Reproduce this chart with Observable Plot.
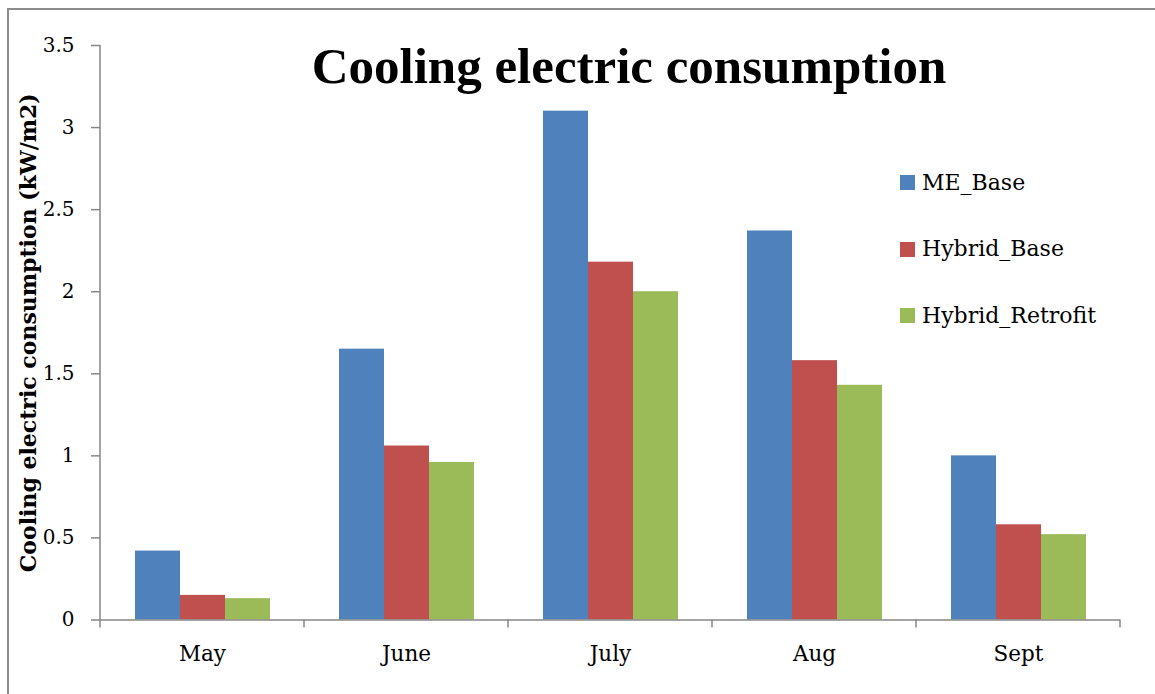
<!DOCTYPE html>
<html>
<head>
<meta charset="utf-8">
<script src="https://cdn.jsdelivr.net/npm/d3@7"></script>
<script src="https://cdn.jsdelivr.net/npm/@observablehq/plot@0.6"></script>
<style>
  body { margin: 0; background: #fff; }
  #chart { position: relative; width: 1155px; height: 694px; overflow: hidden; background: #fff; }
  #border { position: absolute; left: 7px; top: 8px; width: 1300px; height: 900px;
            border-left: 2px solid #8c8c8c; border-top: 2px solid #8c8c8c; }
  #plot { position: absolute; left: 0; top: 0; }
  #title { position: absolute; left: 0; width: 1258px; top: 41px; text-align: center;
           font: bold 51px/1 "Liberation Serif", serif; color: #000; white-space: nowrap; }
  #legend { position: absolute; left: 900px; top: 0; font: 22px/22px "DejaVu Serif", serif; color: #000; }
  .row { position: absolute; left: 0; display: flex; align-items: center; white-space: nowrap; }
  .sw { width: 15px; height: 15px; margin-right: 7px; }
  g[aria-label="y-axis label"] text { font-weight: bold; font-size: 22px; }
  g[aria-label="fx-axis tick label"] text { font-size: 21.5px; }
</style>
</head>
<body>
<div id="chart">
  <div id="border"></div>
  <div id="plot"></div>
  <div id="title"></div>
  <div id="legend"></div>
</div>
<script>
// Monthly cooling electric consumption per floor area, three configurations
const months = ["May", "June", "July", "Aug", "Sept"];
const seriesNames = ["ME_Base", "Hybrid_Base", "Hybrid_Retrofit"];
const meBase = [0.42, 1.65, 3.10, 2.37, 1.00];
const hybridBase = [0.15, 1.06, 2.18, 1.58, 0.58];
const hybridRetrofit = [0.13, 0.96, 2.00, 1.43, 0.52];
const seriesColors = ["#4F81BD", "#C0504D", "#9BBB59"];
const yTicks = [0, 0.5, 1, 1.5, 2, 2.5, 3, 3.5];
const titleText = "Cooling electric consumption";
const yLabel = "Cooling electric consumption (kW/m2)";

// long table: one row per month × series
const seriesValues = [meBase, hybridBase, hybridRetrofit];
const rows = months.flatMap((m, i) =>
  seriesNames.map((s, j) => ({month: m, series: s, value: seriesValues[j][i]}))
);

const axisGray = "#868686";

const plot = Plot.plot({
  width: 1155,
  height: 694,
  marginLeft: 99,
  marginRight: 34,
  marginTop: 45,
  marginBottom: 74.5,
  style: {fontFamily: "'DejaVu Serif', serif", fontSize: "20px", color: "#000", background: "transparent"},
  fx: {domain: months, padding: 0, label: null},
  x: {domain: seriesNames, paddingInner: 0, paddingOuter: 0.75, axis: null},
  y: {domain: [0, 3.5], label: null},
  color: {domain: seriesNames, range: seriesColors},
  marks: [
    Plot.barY(rows, {fx: "month", x: "series", y: "value", fill: "series"}),
    Plot.ruleY([0], {stroke: axisGray, strokeWidth: 1.5}),
    Plot.axisY({
      ticks: yTicks,
      tickSize: 9,
      tickPadding: 17,
      tickFormat: d => String(d),
      stroke: axisGray,
      strokeWidth: 1.5,
      label: yLabel,
      labelAnchor: "center",
      labelArrow: "none",
      labelOffset: 80
    }),
    Plot.axisFx({anchor: "bottom", tickSize: 0, tickPadding: 26, label: null})
  ]
});

// value axis line and category boundary ticks, placed with the plot's own scales
const fx = plot.scale("fx");
const y = plot.scale("y");
const starts = months.map(m => fx.apply(m));
const bounds = starts.concat([starts[starts.length - 1] + fx.bandwidth]);
const svg = d3.select(plot);
const g = svg.append("g").attr("stroke", axisGray).attr("stroke-width", 1.5);
g.append("line")
  .attr("x1", bounds[0]).attr("x2", bounds[0])
  .attr("y1", y.apply(yTicks[yTicks.length - 1])).attr("y2", y.apply(0));
g.selectAll("line.b").data(bounds).join("line").attr("class", "b")
  .attr("x1", d => d).attr("x2", d => d)
  .attr("y1", y.apply(0)).attr("y2", y.apply(0) + 8);

document.getElementById("plot").appendChild(plot);
document.getElementById("title").textContent = titleText;

// legend
const legend = d3.select("#legend");
const rowTops = [171.5, 238, 304.5];
seriesNames.forEach((s, j) => {
  const r = legend.append("div").attr("class", "row").style("top", rowTops[j] + "px");
  r.append("div").attr("class", "sw").style("background", seriesColors[j]);
  r.append("span").text(s);
});
</script>
</body>
</html>
